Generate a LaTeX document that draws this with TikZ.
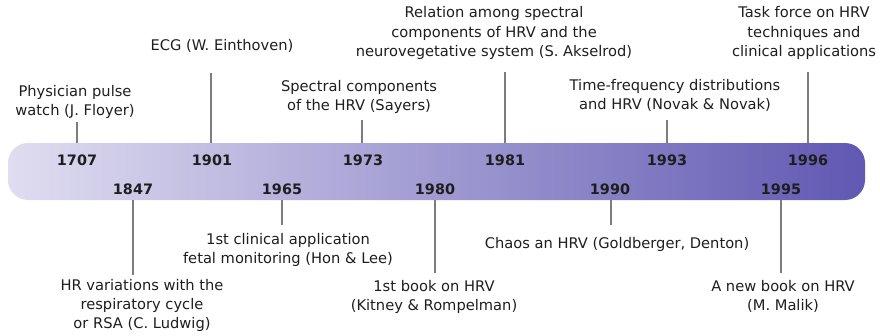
\documentclass[tikz,border=0pt]{standalone}
\usepackage{fontspec}
\setmainfont{DejaVu Sans}
\usepackage{xcolor}
\usetikzlibrary{positioning}
\definecolor{barleft}{RGB}{224,221,241}
\definecolor{barright}{RGB}{96,88,178}
\definecolor{stemgray}{RGB}{125,125,125}
\definecolor{textdark}{RGB}{30,30,30}

\begin{document}
\begin{tikzpicture}[
    x=0.75pt, y=-0.75pt,
    bar/.style={rounded corners=15pt, minimum width=642.75pt, minimum height=42.75pt, inner sep=0pt, left color=barleft, right color=barright, draw=none},
    year/.style={font=\bfseries\fontsize{10.8}{12}\selectfont, text=textdark, inner sep=0pt},
    event/.style={align=center, font=\fontsize{11}{14.3}\selectfont, text=textdark, inner sep=1pt},
    stem/.style={draw=stemgray, line width=1.5pt}
  ]
    \useasboundingbox (0,0) rectangle (880,335);
    % timeline bar
    \node[bar] (bar) at (436.5,171.5) {};
    % years above and below the middle
    \node[year] (y1707) at (77,160) {1707};
    \node[year] (y1901) at (212,160) {1901};
    \node[year] (y1973) at (363,160) {1973};
    \node[year] (y1981) at (505,160) {1981};
    \node[year] (y1993) at (667,160) {1993};
    \node[year] (y1996) at (808,160) {1996};
    \node[year] (y1847) at (133,189) {1847};
    \node[year] (y1965) at (282,189) {1965};
    \node[year] (y1980) at (435,189) {1980};
    \node[year] (y1990) at (610,189) {1990};
    \node[year] (y1995) at (781,189) {1995};
    % ends of the stems
    \coordinate (t1707) at (77,122);
    \coordinate (t1901) at (211,73);
    \coordinate (t1973) at (362,120);
    \coordinate (t1981) at (505,72);
    \coordinate (t1993) at (667,120);
    \coordinate (t1996) at (808,72);
    \coordinate (t1847) at (133,275);
    \coordinate (t1965) at (282,225);
    \coordinate (t1980) at (435,273);
    \coordinate (t1990) at (611,225);
    \coordinate (t1995) at (781,273);
    % events
    \node[event] (floyer) at (75,101.5) {Physician pulse\\watch (J. Floyer)};
    \node[event] (einthoven) at (222,46) {ECG (W. Einthoven)};
    \node[event] (sayers) at (359,97) {Spectral components\\of the HRV (Sayers)};
    \node[event] (akselrod) at (494,33) {Relation among spectral\\components of HRV and the\\neurovegetative system (S. Akselrod)};
    \node[event] (novak) at (675,95.5) {Time-frequency distributions\\and HRV (Novak \& Novak)};
    \node[event] (taskforce) at (804,33) {Task force on HRV\\techniques and\\clinical applications};
    \node[event] (ludwig) at (142,305.5) {HR variations with the\\respiratory cycle\\or RSA (C. Ludwig)};
    \node[event] (honlee) at (288,249.5) {1st clinical application\\fetal monitoring (Hon \& Lee)};
    \node[event] (kitney) at (434,296.5) {1st book on HRV\\(Kitney \& Rompelman)};
    \node[event] (chaos) at (617,244) {Chaos an HRV (Goldberger, Denton)};
    \node[event] (malik) at (783,296.5) {A new book on HRV\\(M. Malik)};
    % stems
    \draw[stem] (t1707) -- (t1707 |- bar.north);
    \draw[stem] (t1901) -- (t1901 |- bar.north);
    \draw[stem] (t1973) -- (t1973 |- bar.north);
    \draw[stem] (t1981) -- (t1981 |- bar.north);
    \draw[stem] (t1993) -- (t1993 |- bar.north);
    \draw[stem] (t1996) -- (t1996 |- bar.north);
    \draw[stem] (t1847) -- (t1847 |- bar.south);
    \draw[stem] (t1965) -- (t1965 |- bar.south);
    \draw[stem] (t1980) -- (t1980 |- bar.south);
    \draw[stem] (t1990) -- (t1990 |- bar.south);
    \draw[stem] (t1995) -- (t1995 |- bar.south);
  \end{tikzpicture}
\end{document}
